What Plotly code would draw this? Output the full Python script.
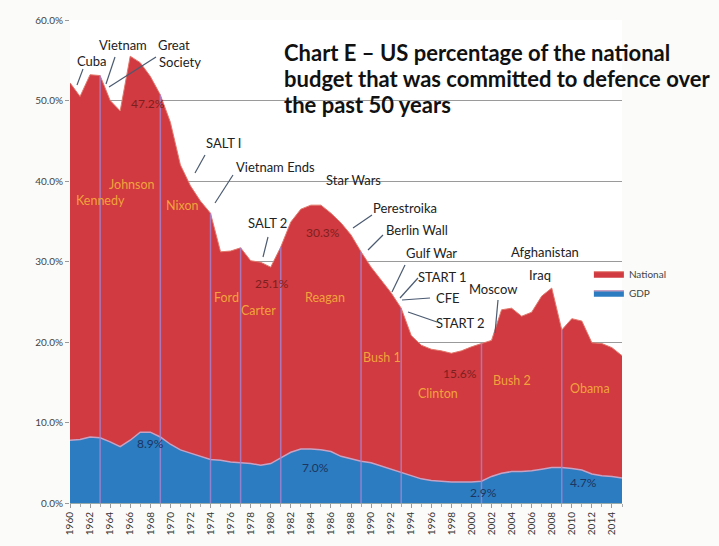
import plotly.graph_objects as go

# ---------------- data ----------------
years = list(range(1960, 2016))
national = [52.2, 50.5, 53.2, 53.1, 50.0, 48.7, 55.5, 54.7, 53.0, 50.7,
            47.3, 42.0, 39.4, 37.5, 36.0, 31.2, 31.3, 31.7, 30.1, 29.9,
            29.3, 31.8, 34.9, 36.5, 37.0, 37.0, 36.0, 34.8, 33.3, 31.2,
            29.3, 27.7, 26.1, 24.2, 20.8, 19.6, 19.1, 18.9, 18.6, 18.9,
            19.4, 19.8, 20.2, 24.0, 24.2, 23.2, 23.7, 25.7, 26.7, 21.5,
            22.9, 22.6, 19.9, 19.8, 19.3, 18.3]
gdp = [7.8, 7.9, 8.2, 8.1, 7.6, 7.0, 7.8, 8.8, 8.8, 8.2,
       7.3, 6.6, 6.2, 5.8, 5.4, 5.3, 5.1, 5.0, 4.9, 4.7,
       4.9, 5.6, 6.3, 6.7, 6.7, 6.6, 6.4, 5.8, 5.5, 5.2,
       5.0, 4.6, 4.2, 3.8, 3.4, 3.0, 2.8, 2.7, 2.6, 2.6,
       2.6, 2.7, 3.3, 3.7, 3.9, 3.9, 4.0, 4.2, 4.4, 4.4,
       4.3, 4.1, 3.6, 3.4, 3.3, 3.1]
presidents = ["Kennedy", "Johnson", "Nixon", "Ford", "Carter", "Reagan",
              "Bush 1", "Clinton", "Bush 2", "Obama"]
term_starts = [1961, 1963, 1969, 1974, 1977, 1981, 1989, 1993, 2001, 2009]
y_ticks = [0, 10, 20, 30, 40, 50, 60]
x_tick_years = list(range(1960, 2015, 2))

events = ["Cuba", "Vietnam", "Great", "Society", "SALT I", "Vietnam Ends",
          "Star Wars", "SALT 2", "Perestroika", "Berlin Wall", "Gulf War",
          "START 1", "CFE", "START 2", "Moscow", "Afghanistan", "Iraq"]
value_labels = ["47.2%", "30.3%", "25.1%", "15.6%", "8.9%", "7.0%", "2.9%", "4.7%"]
title_lines = ["Chart E – US percentage of the national",
               "budget that was committed to defence over",
               "the past 50 years"]

# ---------------- layout (pixel positions from reference) ----------------
W, H = 719, 546
X0, X1, Y0, Y1 = 70, 622, 503, 20
XMIN, XMAX, YMAX = 1960, 2015, 60


def p2d(x, y):
    return (XMIN + (x - X0) / (X1 - X0) * (XMAX - XMIN),
            (Y0 - y) / (Y0 - Y1) * YMAX)


event_pos = [(92, 61), (123, 45), (174, 45), (180, 62), (223, 143), (275, 167),
             (353, 180), (267, 223), (405, 208), (417, 230), (431, 253),
             (442, 277), (448, 298), (460, 323), (493, 289), (545, 252), (540, 275)]
leader_lines = [((77, 85), (83, 69)), ((115, 57), (106, 84)), ((156, 57), (109, 87)),
                ((205, 155), (195, 173)), ((233, 175), (215, 203)),
                ((268, 237), (263, 257)), ((372, 215), (353, 228)),
                ((383, 235), (368, 250)), ((405, 265), (392, 292)),
                ((418, 278), (400, 298)), ((430, 298), (402, 300)),
                ((437, 322), (408, 312)), ((498, 300), (495, 333))]
value_pos = [(148, 103), (323, 232), (272, 283), (460, 373),
             (150, 443), (315, 467), (483, 492), (583, 482)]
value_cols = ["#7e1f1f"] * 4 + ["#1d3560"] * 4
pres_pos = [(100, 200), (132, 184), (182, 205), (226, 297), (258, 310),
            (325, 297), (382, 357), (438, 393), (512, 380), (590, 388)]
title_x = 276
title_y = [37, 66, 95]

RED = "#d03a40"
BLUE = "#2b7cc1"
FONT = "Lato, Open Sans, sans-serif"

fig = go.Figure()
fig.add_trace(go.Scatter(x=years, y=national, name="National", mode="lines",
                         fill="tozeroy", fillcolor=RED, legendgroup="n",
                         line=dict(color="#e2786c", width=1)))
fig.add_trace(go.Scatter(x=years, y=gdp, name="GDP", mode="lines",
                         fill="tozeroy", fillcolor=BLUE, legendgroup="g",
                         line=dict(color="#c7a2c4", width=1.5)))

shapes = []
for yr in term_starts[1:]:
    shapes.append(dict(type="line", xref="x", yref="y", x0=yr, x1=yr, y0=0,
                       y1=national[years.index(yr)],
                       line=dict(color="rgba(165,130,205,0.85)", width=1.5),
                       layer="above"))
for (a, b) in leader_lines:
    xa, ya = p2d(*a)
    xb, yb = p2d(*b)
    shapes.append(dict(type="line", xref="x", yref="y", x0=xa, y0=ya, x1=xb, y1=yb,
                       line=dict(color="#4a5a70", width=1.2), layer="above"))

annotations = []
for t, (px, py) in zip(events, event_pos):
    x, y = p2d(px, py)
    annotations.append(dict(x=x, y=y, xref="x", yref="y", text=t, showarrow=False,
                            font=dict(family=FONT, size=13, color="#222")))
for t, (px, py), c in zip(value_labels, value_pos, value_cols):
    x, y = p2d(px, py)
    annotations.append(dict(x=x, y=y, xref="x", yref="y", text=t, showarrow=False,
                            font=dict(family=FONT, size=12, color=c)))
for t, (px, py) in zip(presidents, pres_pos):
    x, y = p2d(px, py)
    annotations.append(dict(x=x, y=y, xref="x", yref="y", text=t, showarrow=False,
                            font=dict(family=FONT, size=12.5, color="#f2a23c")))
for t, ty in zip(title_lines, title_y):
    annotations.append(dict(
        x=title_x / W, y=1 - ty / H, xref="paper", yref="paper",
        xanchor="left", yanchor="middle", align="left", showarrow=False,
        text="<b>" + t + "</b>",
        font=dict(family="Lato, Roboto, sans-serif", size=22, color="#111")))

fig.update_layout(
    width=W, height=H,
    margin=dict(l=X0, r=W - X1, t=Y1, b=H - Y0),
    paper_bgcolor="#fbfbf9", plot_bgcolor="#ffffff",
    showlegend=True,
    legend=dict(x=0.94, y=0.455, xanchor="left", yanchor="middle",
                traceorder="normal", font=dict(family=FONT, size=10, color="#444"),
                bgcolor="rgba(0,0,0,0)", tracegroupgap=7, itemwidth=30),
    shapes=shapes, annotations=annotations,
    xaxis=dict(range=[XMIN, XMAX], tickvals=x_tick_years,
               ticktext=[str(v) for v in x_tick_years], tickangle=-90,
               tickfont=dict(family=FONT, size=10, color="#333"),
               showgrid=False, zeroline=False, showline=True, linecolor="#9aa",
               ticks="outside", ticklen=4, tickcolor="#999",
               minor=dict(dtick=1, tick0=1960, ticks="outside", ticklen=3, tickcolor="#aaa")),
    yaxis=dict(range=[0, YMAX], tickvals=y_ticks,
               ticktext=[f"{v:.1f}%" for v in y_ticks],
               tickfont=dict(family=FONT, size=10, color="#444"),
               showgrid=True, gridcolor="#9a9a9a", gridwidth=1, zeroline=False,
               ticks="outside", ticklen=4, tickcolor="#999", showline=False),
    font=dict(family=FONT),
)

fig.write_html("out.html")
